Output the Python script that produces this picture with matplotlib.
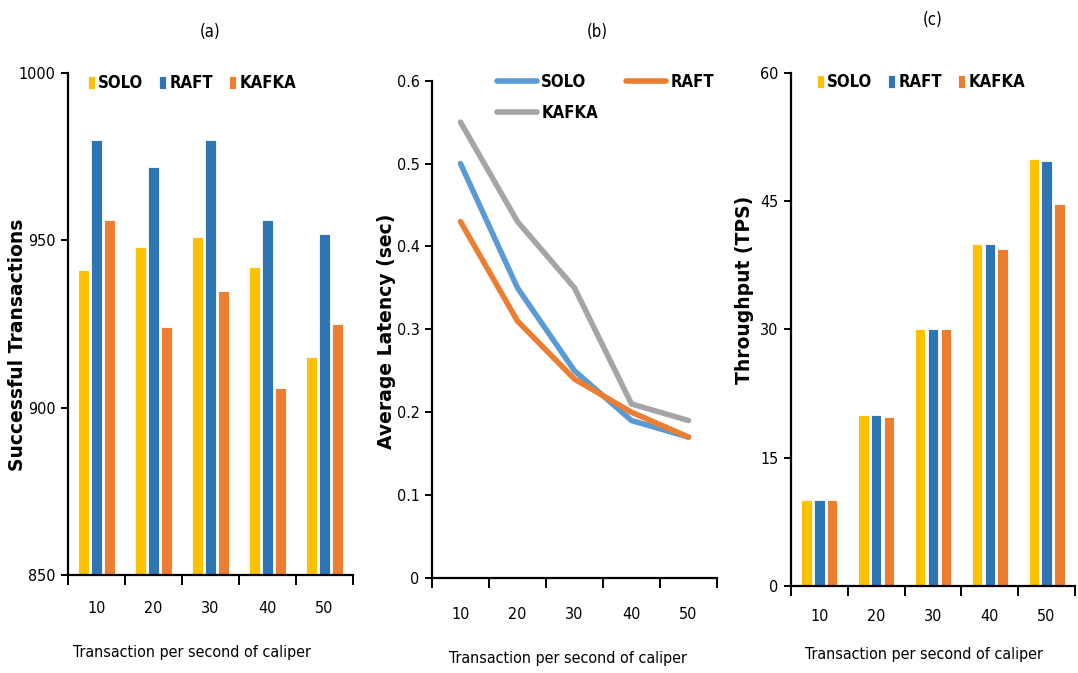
import matplotlib
matplotlib.use("Agg")
import matplotlib.pyplot as plt
import numpy as np
from matplotlib.lines import Line2D
from matplotlib.patches import Patch

# ---------------- data ----------------
categories = ["10", "20", "30", "40", "50"]
series = ["SOLO", "RAFT", "KAFKA"]

success_solo = [941, 948, 951, 942, 915]
success_raft = [980, 972, 980, 956, 952]
success_kafka = [956, 924, 935, 906, 925]

latency_solo = [0.50, 0.35, 0.25, 0.19, 0.17]
latency_raft = [0.43, 0.31, 0.24, 0.20, 0.17]
latency_kafka = [0.55, 0.43, 0.35, 0.21, 0.19]

tps_solo = [10, 20, 30, 40, 49.9]
tps_raft = [10, 20, 30, 40, 49.7]
tps_kafka = [10, 19.8, 30, 39.4, 44.7]

bar_colors = ["#FFC000", "#2E75B6", "#ED7D31"]
line_colors = ["#5B9BD5", "#ED7D31", "#A5A5A5"]

NARROW = ["DejaVu Sans"]
NSTRETCH = "condensed"
WIDE = ["DejaVu Sans"]

W, H = 1078, 673
fig = plt.figure(figsize=(W / 100, H / 100), dpi=100)


def rect(l, r, t, b):
    return [l / W, 1 - b / H, (r - l) / W, (b - t) / H]


def narrow(lab, size=11.5):
    lab.set_fontfamily(NARROW)
    lab.set_fontstretch(NSTRETCH)
    lab.set_fontsize(size)


def style_axes(ax, n):
    for s in ["top", "right"]:
        ax.spines[s].set_visible(False)
    for s in ["left", "bottom"]:
        ax.spines[s].set_linewidth(1.6)
        ax.spines[s].set_color("black")
    ax.set_xlim(-0.5, n - 0.5)
    ax.set_xticks(np.arange(n))
    ax.set_xticklabels(categories)
    ax.set_xticks(np.arange(n + 1) - 0.5, minor=True)
    ax.tick_params(axis="x", which="major", length=0, pad=19)
    ax.tick_params(axis="x", which="minor", length=7, width=1.4, direction="out")
    ax.tick_params(axis="y", length=5, width=1.4, direction="out", pad=4)
    for lab in ax.get_xticklabels() + ax.get_yticklabels():
        narrow(lab)


def bar_panel(ax, vals, ylim, yticks):
    x = np.arange(len(categories))
    w = 0.185
    off = 0.225
    for i, (v, c) in enumerate(zip(vals, bar_colors)):
        ax.bar(x + (i - 1) * off, np.array(v) - ylim[0], bottom=ylim[0], width=w,
               color=c, edgecolor="white", linewidth=0.6, zorder=2)
    ax.set_ylim(*ylim)
    ax.set_yticks(yticks)
    style_axes(ax, len(categories))


# ---------------- panel (a) ----------------
ax1 = fig.add_axes(rect(68, 353, 73, 575))
bar_panel(ax1, [success_solo, success_raft, success_kafka], (850, 1000), [850, 900, 950, 1000])

# ---------------- panel (b) ----------------
ax2 = fig.add_axes(rect(432, 717, 80.7, 578))
x = np.arange(len(categories))
for v, c in zip([latency_solo, latency_raft, latency_kafka], line_colors):
    ax2.plot(x, v, color=c, linewidth=4.0, solid_capstyle="round",
             solid_joinstyle="round", zorder=2)
ax2.set_ylim(0, 0.6)
ax2.set_yticks([0, 0.1, 0.2, 0.3, 0.4, 0.5, 0.6])
ax2.set_yticklabels(["0", "0.1", "0.2", "0.3", "0.4", "0.5", "0.6"])
style_axes(ax2, len(categories))
ax2.tick_params(axis="x", which="major", pad=21)

# ---------------- panel (c) ----------------
ax3 = fig.add_axes(rect(791, 1075, 73, 585.7))
bar_panel(ax3, [tps_solo, tps_raft, tps_kafka], (0, 60), [0, 15, 30, 45, 60])
ax3.tick_params(axis="x", which="major", pad=17)

# ---------------- legends ----------------
bar_handles = [Patch(facecolor=c, edgecolor="white", linewidth=0.6) for c in bar_colors]
leg_font = dict(family=NARROW, weight="bold", size=12, stretch=NSTRETCH)
for xl, yc in [(88, 83), (817, 82)]:
    fig.legend(bar_handles, series, loc="center left",
               bbox_to_anchor=(xl / W, 1 - yc / H), bbox_transform=fig.transFigure,
               ncol=3, frameon=False, prop=leg_font, handlelength=0.42,
               handleheight=0.8, handletextpad=0.2, columnspacing=0.95,
               borderpad=0, borderaxespad=0)

line_handles = [Line2D([0], [0], color=c, linewidth=4.0, solid_capstyle="round")
                for c in line_colors]
order = [0, 2, 1]  # fills column-wise -> row1: SOLO, RAFT ; row2: KAFKA
fig.legend([line_handles[i] for i in order], [series[i] for i in order],
           loc="upper left",
           bbox_to_anchor=(497 / W, 1 - 73 / H), bbox_transform=fig.transFigure,
           ncol=2, frameon=False, prop=leg_font, handlelength=2.4,
           handletextpad=0.25, columnspacing=1.7, labelspacing=0.75,
           borderpad=0, borderaxespad=0)

# ---------------- titles / labels ----------------
for tx, ty, t in [(210, 32, "(a)"), (597, 32, "(b)"), (933, 20, "(c)")]:
    fig.text(tx / W, 1 - ty / H, t, ha="center", va="center",
             fontfamily=NARROW, fontstretch=NSTRETCH, fontsize=12)

for tx, ty, t in [(18, 345, "Successful Transactions"),
                  (386, 331, "Average Latency (sec)"),
                  (745, 290, "Throughput (TPS)")]:
    fig.text(tx / W, 1 - ty / H, t, ha="center", va="center", rotation=90,
             fontfamily=WIDE, fontweight="bold", fontsize=13.5)

for tx, ty in [(192, 653), (568, 658), (924, 655)]:
    fig.text(tx / W, 1 - ty / H, "Transaction per second of caliper",
             ha="center", va="center", fontfamily=NARROW, fontstretch=NSTRETCH,
             fontsize=11.5)

fig.savefig("out.png", dpi=100)
